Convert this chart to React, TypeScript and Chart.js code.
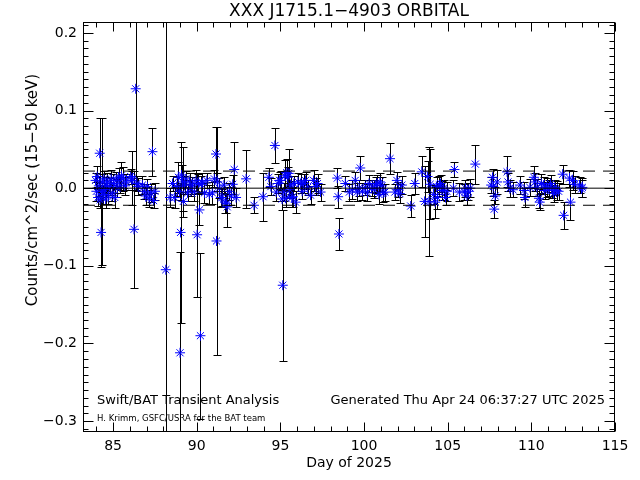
import React, { useEffect, useRef } from "react";
import { Chart, registerables } from "chart.js";

Chart.register(...registerables);

const TITLE = "XXX J1715.1\u22124903 ORBITAL";
const X_LABEL = "Day of 2025";
const Y_LABEL = "Counts/cm^2/sec (15\u221250 keV)";
const NOTE_LEFT = "Swift/BAT Transient Analysis";
const NOTE_RIGHT = "Generated Thu Apr 24 06:37:27 UTC 2025";
const NOTE_SMALL = "H. Krimm, GSFC/USRA for the BAT team";

const X_MIN = 83.2;
const X_MAX = 115;
const Y_MIN = -0.314;
const Y_MAX = 0.214;
const xTicks = [85, 90, 95, 100, 105, 110, 115];
const yTicks = [-0.3, -0.2, -0.1, 0.0, 0.1, 0.2];
const X_MINOR_STEP = 1;
const Y_MINOR_STEP = 0.01;
const LIMIT = 0.022;

const days = [
  83.95, 84.0, 84.05, 84.1, 84.15, 84.2, 84.22, 84.28, 84.32, 84.35, 84.4, 84.45, 84.5, 84.55, 84.6,
  84.65, 84.72, 84.8, 84.88, 84.95, 85.02, 85.1, 85.18, 85.25, 85.33, 85.4, 85.5, 85.6, 85.7, 85.8,
  86.05, 86.12, 86.15, 86.25, 86.35, 86.42, 86.5,
  86.75, 86.85, 86.95, 87.05, 87.15, 87.25, 87.35, 87.42, 87.5,
  88.15,
  88.4, 88.55, 88.68, 88.8, 88.9, 88.97, 89.0, 89.03, 89.09, 89.15, 89.2, 89.27, 89.35, 89.45, 89.57,
  89.65, 89.74, 89.85, 89.95, 90.02, 90.1, 90.16, 90.22, 90.28, 90.34, 90.46, 90.6, 90.75, 90.93,
  91.05, 91.15, 91.18, 91.23, 91.35, 91.45, 91.52, 91.62, 91.7, 91.76, 91.82, 91.95, 92.06, 92.15,
  92.24, 92.35, 92.95, 93.42,
  93.96, 94.31, 94.43, 94.67, 94.75, 94.85, 94.95, 95.02, 95.1, 95.14, 95.2, 95.26, 95.32, 95.38,
  95.44, 95.5, 95.56, 95.62, 95.68, 95.74, 95.8, 95.91, 96.05, 96.21, 96.3, 96.39, 96.5, 96.63,
  96.8, 96.98, 97.1, 97.22, 97.4,
  98.4, 98.45, 98.5, 98.88, 99.12, 99.29, 99.47, 99.59, 99.7, 99.77, 99.9, 100.07, 100.2, 100.3,
  100.45, 100.6, 100.7, 100.78, 100.88, 100.95, 101.07, 101.15, 101.25, 101.55, 101.84, 101.96,
  102.05, 102.14, 102.26, 102.79, 103.03, 103.45, 103.62, 103.8, 103.88, 103.95,
  104.16, 104.25, 104.34, 104.39, 104.5, 104.57, 104.65, 104.75, 104.87, 104.95, 105.34, 105.4,
  105.7, 106.0, 106.06, 106.15, 106.23, 106.35, 106.65, 107.6, 107.68, 107.72, 107.78, 107.84,
  107.95, 108.55, 108.6, 108.72, 108.9,
  109.32, 109.56, 109.62, 109.91, 110.15, 110.21, 110.33, 110.45, 110.5, 110.6, 110.74, 110.8,
  110.92, 111.04, 111.15, 111.22, 111.33, 111.39, 111.51, 111.63, 111.87, 111.93, 112.28, 112.34,
  112.46, 112.58, 112.88, 113.0, 113.05,
];

const rates = [
  0.01, -0.004, 0.015, -0.012, 0.003, 0.045, -0.015, -0.057, -0.004, 0.008, -0.008, 0.012, -0.002, -0.014, 0.004,
  0.008, -0.01, 0.002, 0.012, -0.006, 0.006, -0.012, 0.01, 0.0, 0.014, 0.004, 0.016, 0.012, 0.003, 0.008,
  0.015, 0.01, 0.013, -0.053, 0.128, 0.006, 0.002,
  0.004, -0.004, -0.01, 0.002, -0.013, -0.006, 0.047, -0.016, -0.004,
  -0.105,
  -0.012, 0.006, -0.012, 0.002, 0.014, -0.004, -0.212, -0.057, 0.017, 0.008, -0.017, 0.004, 0.012, -0.006, 0.008,
  0.0, 0.004, -0.005, 0.01, -0.06, 0.006, -0.028, -0.19, 0.005, 0.007, -0.006, 0.01, -0.008, -0.006,
  0.012, 0.044, -0.068, 0.008, 0.0, -0.012, -0.012, 0.004, -0.018, -0.02, -0.024, -0.004, -0.01, 0.005,
  0.024, -0.012, 0.012, -0.022,
  -0.011, 0.014, 0.002, 0.055, -0.005, 0.006, 0.01, 0.01, -0.014, -0.125, -0.005, 0.016, -0.013, 0.02,
  0.014, 0.019, -0.002, 0.004, -0.012, -0.011, 0.006, -0.018, 0.008, 0.006, -0.004, 0.006, 0.01, 0.001,
  -0.009, 0.01, 0.002, 0.006, -0.005,
  0.013, -0.011, -0.059, 0.006, -0.005, -0.002, 0.01, -0.005, 0.0, 0.026, -0.004, 0.001, -0.006, 0.006,
  0.0, -0.001, 0.004, 0.006, -0.008, 0.008, 0.003, -0.006, -0.005, 0.038, -0.005, 0.01,
  -0.002, -0.007, 0.004, -0.023, 0.006, 0.021, -0.017, 0.015, -0.017, 0.005,
  -0.008, -0.018, 0.002, -0.012, 0.004, 0.006, -0.003, 0.0, -0.012, -0.004, 0.0, 0.024,
  -0.005, -0.005, 0.0, -0.01, -0.004, 0.0, 0.031, 0.004, 0.014, 0.002, -0.027, -0.01,
  0.008, 0.021, 0.008, 0.0, -0.002,
  0.004, -0.003, -0.012, 0.001, 0.014, 0.008, 0.001, -0.013, -0.018, 0.006, 0.004, -0.003,
  0.001, 0.0, 0.006, -0.001, -0.007, 0.001, -0.003, -0.004, 0.018, -0.035, 0.013, -0.018,
  0.01, 0.005, 0.004, -0.001, 0.001,
];

const errors = [
  0.01, 0.012, 0.014, 0.011, 0.013, 0.045, 0.01, 0.045, 0.095, 0.01, 0.012, 0.01, 0.009, 0.011, 0.01,
  0.012, 0.01, 0.011, 0.012, 0.01, 0.012, 0.013, 0.011, 0.012, 0.012, 0.01, 0.018, 0.015, 0.012, 0.01,
  0.01, 0.012, 0.035, 0.075, 0.13, 0.01, 0.011,
  0.012, 0.01, 0.012, 0.01, 0.011, 0.012, 0.031, 0.01, 0.011,
  0.33,
  0.012, 0.01, 0.014, 0.012, 0.02, 0.011, 0.13, 0.117, 0.013, 0.045, 0.012, 0.012, 0.01, 0.011, 0.012,
  0.01, 0.011, 0.012, 0.013, 0.08, 0.012, 0.02, 0.107, 0.011, 0.012, 0.013, 0.01, 0.012, 0.014,
  0.011, 0.035, 0.147, 0.012, 0.013, 0.012, 0.011, 0.01, 0.014, 0.012, 0.026, 0.011, 0.012, 0.012,
  0.035, 0.012, 0.037, 0.01,
  0.031, 0.012, 0.011, 0.023, 0.012, 0.012, 0.011, 0.012, 0.014, 0.097, 0.012, 0.02, 0.011, 0.018,
  0.013, 0.032, 0.011, 0.012, 0.012, 0.013, 0.01, 0.014, 0.011, 0.012, 0.01, 0.012, 0.011, 0.01,
  0.012, 0.013, 0.011, 0.012, 0.011,
  0.013, 0.014, 0.021, 0.01, 0.011, 0.012, 0.011, 0.012, 0.01, 0.016, 0.011, 0.01, 0.011, 0.011,
  0.01, 0.012, 0.01, 0.011, 0.012, 0.012, 0.011, 0.012, 0.011, 0.02, 0.01, 0.011,
  0.01, 0.012, 0.012, 0.014, 0.014, 0.02, 0.046, 0.02, 0.07, 0.045,
  0.012, 0.02, 0.012, 0.015, 0.012, 0.011, 0.012, 0.011, 0.01, 0.012, 0.01, 0.01,
  0.012, 0.01, 0.011, 0.012, 0.011, 0.012, 0.025, 0.01, 0.011, 0.012, 0.012, 0.011,
  0.015, 0.02, 0.012, 0.011, 0.01,
  0.012, 0.011, 0.012, 0.011, 0.014, 0.012, 0.011, 0.012, 0.01, 0.012, 0.011, 0.011,
  0.012, 0.01, 0.011, 0.012, 0.011, 0.01, 0.012, 0.011, 0.012, 0.017, 0.011, 0.023,
  0.012, 0.011, 0.01, 0.011, 0.012,
];

const FONT = "'DejaVu Sans', sans-serif";

const errorBarPlugin = {
  id: "errorBars",
  beforeDatasetsDraw(chart: any) {
    const { ctx, chartArea, scales } = chart;
    const xs = scales.x;
    const ys = scales.y;
    ctx.save();
    ctx.beginPath();
    ctx.rect(chartArea.left, chartArea.top, chartArea.right - chartArea.left, chartArea.bottom - chartArea.top);
    ctx.clip();
    ctx.strokeStyle = "#000";
    ctx.lineWidth = 1;
    ctx.beginPath();
    for (let i = 0; i < days.length; i++) {
      const x = Math.round(xs.getPixelForValue(days[i])) + 0.5;
      const yTop = Math.round(ys.getPixelForValue(rates[i] + errors[i])) + 0.5;
      const yBot = Math.round(ys.getPixelForValue(rates[i] - errors[i])) + 0.5;
      ctx.moveTo(x, yTop);
      ctx.lineTo(x, yBot);
      ctx.moveTo(x - 4, yTop);
      ctx.lineTo(x + 4, yTop);
      ctx.moveTo(x - 4, yBot);
      ctx.lineTo(x + 4, yBot);
    }
    ctx.stroke();
    ctx.restore();
  },
};

const framePlugin = {
  id: "frame",
  afterDraw(chart: any) {
    const { ctx, chartArea, scales } = chart;
    const xs = scales.x;
    const ys = scales.y;
    const L = chartArea.left + 0.5;
    const R = chartArea.right - 0.5;
    const T = chartArea.top + 0.5;
    const B = chartArea.bottom - 0.5;
    ctx.save();
    ctx.strokeStyle = "#000";
    ctx.lineWidth = 1;
    ctx.strokeRect(L, T, R - L, B - T);
    ctx.beginPath();
    for (let d = Math.ceil(X_MIN); d <= X_MAX + 1e-9; d += X_MINOR_STEP) {
      const major = xTicks.some((t) => Math.abs(t - d) < 1e-6);
      const len = major ? 9 : 5;
      const x = Math.round(xs.getPixelForValue(d)) + 0.5;
      ctx.moveTo(x, B);
      ctx.lineTo(x, B - len);
      ctx.moveTo(x, T);
      ctx.lineTo(x, T + len);
    }
    const n0 = Math.ceil(Y_MIN / Y_MINOR_STEP - 1e-9);
    const n1 = Math.floor(Y_MAX / Y_MINOR_STEP + 1e-9);
    for (let n = n0; n <= n1; n++) {
      const v = n * Y_MINOR_STEP;
      const major = yTicks.some((t) => Math.abs(t - v) < 1e-6);
      const len = major ? 10 : 5;
      const y = Math.round(ys.getPixelForValue(v)) + 0.5;
      ctx.moveTo(L, y);
      ctx.lineTo(L + len, y);
      ctx.moveTo(R, y);
      ctx.lineTo(R - len, y);
    }
    ctx.stroke();

    const cx = (chartArea.left + chartArea.right) / 2;
    ctx.fillStyle = "#000";
    ctx.textBaseline = "middle";
    ctx.textAlign = "center";
    ctx.font = `17px ${FONT}`;
    ctx.fillText(TITLE, cx, 12);
    ctx.font = `14px ${FONT}`;
    ctx.fillText(X_LABEL, cx, 463);
    ctx.save();
    ctx.translate(33, 190);
    ctx.rotate(-Math.PI / 2);
    ctx.font = `15px ${FONT}`;
    ctx.fillText(Y_LABEL, 0, 0);
    ctx.restore();
    ctx.textAlign = "left";
    ctx.font = `13px ${FONT}`;
    ctx.fillText(NOTE_LEFT, 97, 401);
    ctx.textAlign = "right";
    ctx.fillText(NOTE_RIGHT, 605, 401);
    ctx.textAlign = "left";
    ctx.font = `8.5px ${FONT}`;
    ctx.fillText(NOTE_SMALL, 97, 419);
    ctx.restore();
  },
};

function fmtY(v: number) {
  const s = Math.abs(v).toFixed(1);
  return v < -1e-9 ? "\u2212" + s : s;
}

export default function App() {
  const ref = useRef<HTMLCanvasElement | null>(null);
  useEffect(() => {
    if (!ref.current) return;
    const points = days.map((d, i) => ({ x: d, y: rates[i] }));
    const chart = new Chart(ref.current, {
      type: "scatter",
      data: {
        datasets: [
          {
            type: "line",
            data: [{ x: X_MIN, y: 0 }, { x: X_MAX, y: 0 }],
            borderColor: "#000",
            borderWidth: 1,
            pointRadius: 0,
          } as any,
          {
            type: "line",
            data: [{ x: X_MIN, y: LIMIT }, { x: X_MAX, y: LIMIT }],
            borderColor: "#000",
            borderWidth: 1,
            borderDash: [12, 8],
            pointRadius: 0,
          } as any,
          {
            type: "line",
            data: [{ x: X_MIN, y: -LIMIT }, { x: X_MAX, y: -LIMIT }],
            borderColor: "#000",
            borderWidth: 1,
            borderDash: [12, 8],
            pointRadius: 0,
          } as any,
          {
            data: points,
            pointStyle: "star",
            pointRadius: 5,
            pointBorderColor: "#0000ff",
            pointBackgroundColor: "#0000ff",
            pointBorderWidth: 1,
            borderColor: "#0000ff",
          },
        ],
      },
      options: {
        responsive: false,
        animation: false,
        layout: { padding: { top: 22, right: 25, left: 0, bottom: 0 } },
        plugins: { legend: { display: false }, tooltip: { enabled: false } },
        scales: {
          x: {
            type: "linear",
            min: X_MIN,
            max: X_MAX,
            grid: { display: false, drawTicks: false },
            border: { display: false },
            ticks: {
              color: "#000",
              font: { family: FONT, size: 14 },
              padding: 6,
              maxRotation: 0,
              callback: (v: any) => String(v),
            },
            afterBuildTicks: (s: any) => {
              s.ticks = xTicks.map((v) => ({ value: v }));
            },
            afterFit: (s: any) => {
              s.height = 48;
            },
          },
          y: {
            type: "linear",
            min: Y_MIN,
            max: Y_MAX,
            grid: { display: false, drawTicks: false },
            border: { display: false },
            ticks: {
              color: "#000",
              font: { family: FONT, size: 14 },
              padding: 6,
              callback: (v: any) => fmtY(Number(v)),
            },
            afterBuildTicks: (s: any) => {
              s.ticks = yTicks.map((v) => ({ value: v }));
            },
            afterFit: (s: any) => {
              s.width = 83;
            },
          },
        },
      },
      plugins: [errorBarPlugin, framePlugin],
    });
    return () => chart.destroy();
  }, []);
  return (
    <div style={{ position: "fixed", left: 0, top: 0, width: 640, height: 480, background: "#fff" }}>
      <canvas ref={ref} width={640} height={480} />
    </div>
  );
}
